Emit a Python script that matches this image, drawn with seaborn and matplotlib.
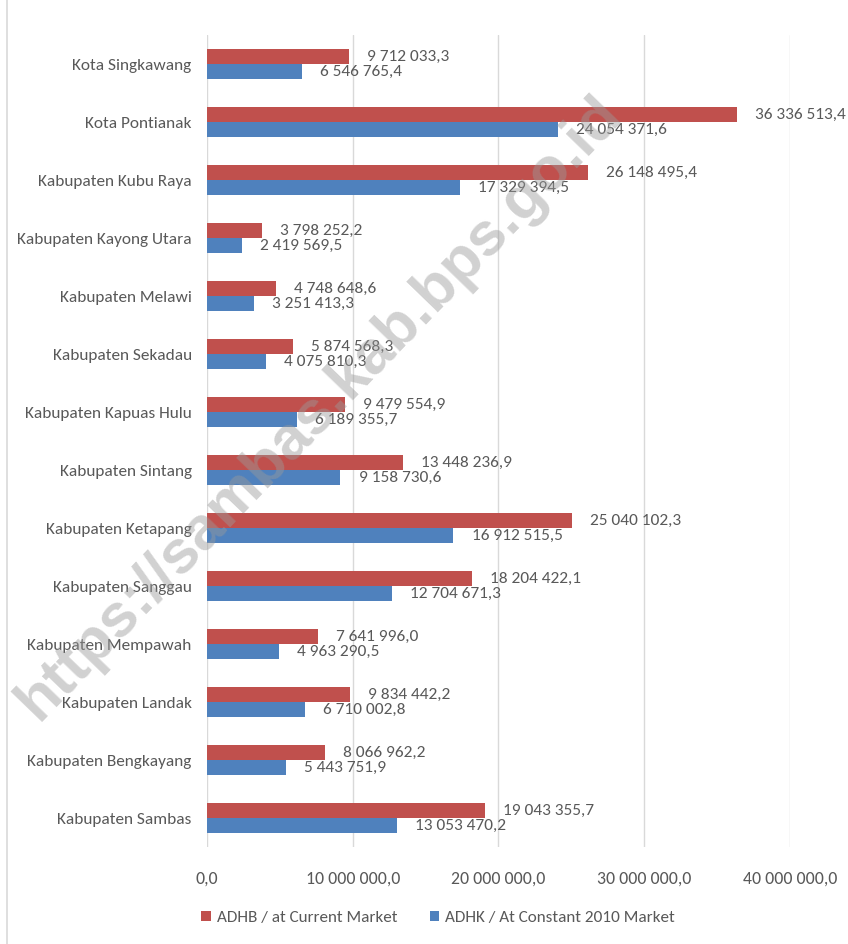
import matplotlib
matplotlib.use("Agg")
import matplotlib.pyplot as plt
import seaborn as sns
import pandas as pd
from matplotlib.lines import Line2D
from matplotlib.ticker import FuncFormatter

regions = ["Kota Singkawang", "Kota Pontianak", "Kabupaten Kubu Raya", "Kabupaten Kayong Utara",
           "Kabupaten Melawi", "Kabupaten Sekadau", "Kabupaten Kapuas Hulu", "Kabupaten Sintang",
           "Kabupaten Ketapang", "Kabupaten Sanggau", "Kabupaten Mempawah", "Kabupaten Landak",
           "Kabupaten Bengkayang", "Kabupaten Sambas"]
adhb = [9712033.3, 36336513.4, 26148495.4, 3798252.2, 4748648.6, 5874568.3, 9479554.9,
        13448236.9, 25040102.3, 18204422.1, 7641996.0, 9834442.2, 8066962.2, 19043355.7]
adhk = [6546765.4, 24054371.6, 17329394.5, 2419569.5, 3251413.3, 4075810.3, 6189355.7,
        9158730.6, 16912515.5, 12704671.3, 4963290.5, 6710002.8, 5443751.9, 13053470.2]
series = ["ADHB / at Current Market", "ADHK / At Constant 2010 Market"]
xticks = [0, 10000000, 20000000, 30000000, 40000000]

def fmt(v):
    s = f"{v:,.1f}"
    return s.replace(",", " ").replace(".", ",")

df = pd.DataFrame({
    "region": regions * 2,
    "value": adhb + adhk,
    "series": [series[0]] * len(regions) + [series[1]] * len(regions),
})

sns.set_theme(style="white")
plt.rcParams["font.family"] = ["Carlito", "DejaVu Sans"]
txt = "#595959"

fig = plt.figure(figsize=(8.48, 9.44), dpi=100)
ax = fig.add_axes([207/848, 1 - 847/944, (790 - 207)/848, (847 - 35)/944])

sns.barplot(data=df, y="region", x="value", hue="series", orient="h",
            palette=["#C0504D", "#4F81BD"], width=0.52, dodge=True, saturation=1,
            edgecolor="none", ax=ax, legend=True)

ax.set_xlim(0, 40000000)
ax.set_xticks(xticks)
ax.xaxis.set_major_formatter(FuncFormatter(lambda v, p: fmt(v)))
ax.grid(axis="x", color="#D9D9D9", linewidth=1)
ax.set_axisbelow(True)
for s in ax.spines.values():
    s.set_visible(False)
ax.set_xlabel("")
ax.set_ylabel("")
ax.tick_params(axis="x", colors=txt, labelsize=12.8, length=0, pad=17)
ax.tick_params(axis="y", colors=txt, labelsize=12.4, length=0, pad=11)
for lbl in ax.get_xticklabels() + ax.get_yticklabels():
    lbl.set_color(txt)

for cont in ax.containers:
    labels = [fmt(b.get_width()) for b in cont]
    ax.bar_label(cont, labels=labels, padding=13, color=txt, fontsize=12.5, clip_on=False)

h, l = ax.get_legend_handles_labels()
ax.get_legend().remove()
fig.legend(h, l, loc="center", bbox_to_anchor=(438/848, 1 - 918/944), ncol=2, frameon=False,
           fontsize=12.3, handlelength=0.55, handleheight=0.55, handletextpad=0.35,
           columnspacing=1.9, labelcolor=txt)

# chart border on the left
fig.add_artist(Line2D([7/848, 7/848], [0, 1], color="#D9D9D9", linewidth=1.2,
                      transform=fig.transFigure))

# watermark
fig.text(320/848, 1 - 408/944, "https://sambas.kab.bps.go.id", rotation=46,
         ha="center", va="center", fontsize=44, fontweight="bold",
         color="#9A9A9A", alpha=0.45, family="Liberation Sans", zorder=10)

fig.savefig("out.png", dpi=100)
